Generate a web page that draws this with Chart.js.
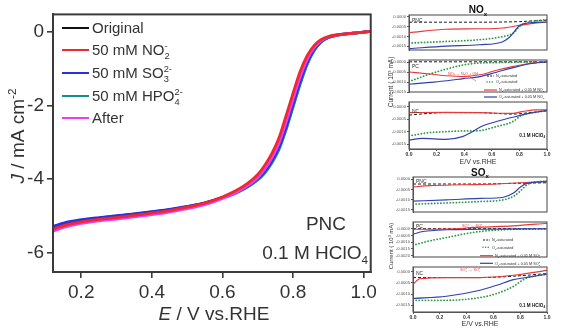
<!DOCTYPE html>
<html><head><meta charset="utf-8">
<script src="https://cdn.jsdelivr.net/npm/chart.js@4.4.1/dist/chart.umd.min.js"></script>
<style>
html,body{margin:0;padding:0;background:#fff;}
body{width:562px;height:332px;overflow:hidden;position:relative;}
canvas{position:absolute;}
</style>
</head><body>
<canvas id="main" width="380" height="332" style="left:0;top:0"></canvas>
<canvas id="noxPNC" width="182" height="166" style="left:380px;top:0"></canvas>
<canvas id="noxPC" width="182" height="166" style="left:380px;top:0"></canvas>
<canvas id="noxNC" width="182" height="166" style="left:380px;top:0"></canvas>
<canvas id="soxPNC" width="182" height="166" style="left:380px;top:166px"></canvas>
<canvas id="soxPC" width="182" height="166" style="left:380px;top:166px"></canvas>
<canvas id="soxNC" width="182" height="166" style="left:380px;top:166px"></canvas>
<script>
// ---------- main chart data ----------
const mainE = [0.12,0.15,0.2,0.25,0.3,0.35,0.4,0.45,0.5,0.55,0.6,0.64,0.67,0.7,0.72,0.74,0.76,0.78,0.8,0.82,0.84,0.86,0.88,0.9,0.92,0.95,0.98,1.0,1.02];
const jOriginal = [-5.30,-5.21,-5.12,-5.06,-5.01,-4.95,-4.89,-4.83,-4.75,-4.65,-4.50,-4.35,-4.20,-4.00,-3.80,-3.52,-3.15,-2.62,-2.00,-1.38,-0.85,-0.48,-0.26,-0.15,-0.09,-0.05,-0.02,0.00,0.02];
const jNO2 = [-5.36,-5.26,-5.16,-5.09,-5.04,-4.98,-4.92,-4.85,-4.76,-4.65,-4.48,-4.30,-4.12,-3.87,-3.62,-3.30,-2.88,-2.28,-1.66,-1.07,-0.64,-0.36,-0.20,-0.12,-0.08,-0.05,-0.02,0.00,0.02];
const jSO3 = [-5.28,-5.19,-5.10,-5.04,-4.99,-4.94,-4.88,-4.82,-4.74,-4.64,-4.49,-4.34,-4.19,-3.98,-3.78,-3.50,-3.12,-2.58,-1.96,-1.34,-0.82,-0.46,-0.25,-0.14,-0.09,-0.05,-0.02,0.00,0.02];
const jHPO4 = [-5.31,-5.22,-5.13,-5.07,-5.02,-4.96,-4.90,-4.84,-4.76,-4.66,-4.51,-4.37,-4.22,-4.02,-3.83,-3.56,-3.20,-2.66,-2.04,-1.42,-0.88,-0.50,-0.27,-0.15,-0.10,-0.05,-0.02,0.00,0.02];
const jAfter = [-5.41,-5.31,-5.20,-5.13,-5.08,-5.02,-4.96,-4.89,-4.80,-4.69,-4.52,-4.35,-4.18,-3.95,-3.72,-3.42,-3.02,-2.45,-1.83,-1.22,-0.74,-0.42,-0.23,-0.13,-0.09,-0.05,-0.02,0.00,0.02];
const mainXTicks = [0.2,0.4,0.6,0.8,1.0];
const mainYTicks = [0,-2,-4,-6];

// ---------- small panels data: [E, current] ----------
const noxPNC_N2 = [[0,-0.00027],[0.27,-0.00027],[0.51,-0.00027],[0.68,-0.00026],[0.80,-0.00024],[0.90,-0.00020],[1.0,-0.00017]];
const noxPNC_O2 = [[0,-0.00134],[0.27,-0.00126],[0.51,-0.00117],[0.68,-0.00101],[0.756,-0.00083],[0.80,-0.00050],[0.853,-0.00030],[1.0,-0.00013]];
const noxPNC_N2X = [[0,-0.00081],[0.27,-0.00063],[0.51,-0.00061],[0.68,-0.00057],[0.80,-0.00043],[0.90,-0.00033],[1.0,-0.00027]];
const noxPNC_O2X = [[0,-0.00163],[0.27,-0.00150],[0.51,-0.00143],[0.68,-0.00127],[0.73,-0.00103],[0.804,-0.00043],[0.877,-0.00030],[1.0,-0.00026]];

const noxPC_N2 = [[0,0.00001],[0.5,0.00001],[1.0,0.00001]];
const noxPC_O2 = [[0,-0.00098],[0.152,-0.00060],[0.273,-0.00035],[0.393,-0.00015],[0.514,-0.00005],[0.635,-0.00003],[0.756,-0.00001],[0.877,0],[1.0,0]];
const noxPC_N2X = [[0,-0.00050],[0.152,-0.00060],[0.273,-0.00069],[0.393,-0.00073],[0.514,-0.00064],[0.635,-0.00041],[0.756,-0.00022],[0.877,-0.00006],[1.0,0]];
const noxPC_O2X = [[0,-0.00111],[0.152,-0.00102],[0.273,-0.00094],[0.393,-0.00083],[0.514,-0.00073],[0.635,-0.00051],[0.756,-0.00028],[0.877,-0.00009],[1.0,0]];

const noxNC_N2 = [[0,-0.00033],[0.145,-0.00026],[0.266,-0.00023],[0.507,-0.00023],[0.628,-0.00026],[0.749,-0.00029],[0.87,-0.00023],[1.0,-0.00015]];
const noxNC_O2 = [[0,-0.00117],[0.145,-0.00104],[0.266,-0.00100],[0.387,-0.00097],[0.507,-0.00096],[0.628,-0.00080],[0.749,-0.00060],[0.821,-0.00033],[0.918,-0.00022],[1.0,-0.00015]];
const noxNC_N2X = [[0,-0.00023],[0.266,-0.00022],[0.507,-0.00023],[0.749,-0.00026],[0.821,-0.00019],[0.918,-0.00012],[1.0,-0.00012]];
const noxNC_O2X = [[0,-0.00134],[0.097,-0.00127],[0.266,-0.00131],[0.387,-0.00120],[0.459,-0.00100],[0.531,-0.00077],[0.628,-0.00060],[0.749,-0.00042],[0.87,-0.00026],[1.0,-0.00015]];

const soxPNC_N2 = [[0,-0.00024],[0.5,-0.00024],[0.75,-0.00021],[1.0,-0.00018]];
const soxPNC_O2 = [[0,-0.00122],[0.25,-0.00116],[0.5,-0.00109],[0.675,-0.00101],[0.75,-0.00084],[0.8,-0.00059],[0.85,-0.00028],[0.9,-0.00015],[1.0,-0.00011]];
const soxPNC_N2X = [[0,-0.00038],[0.125,-0.00032],[0.375,-0.00028],[0.625,-0.00024],[0.8,-0.00018],[1.0,-0.00010]];
const soxPNC_O2X = [[0,-0.00107],[0.25,-0.00101],[0.5,-0.00094],[0.675,-0.00088],[0.75,-0.00068],[0.8,-0.00040],[0.85,-0.00021],[1.0,-0.00013]];

const soxPC_N2 = [[0,0],[0.5,0],[1.0,0]];
const soxPC_O2 = [[0,-0.00123],[0.125,-0.00090],[0.25,-0.00066],[0.375,-0.00040],[0.5,-0.00021],[0.625,-0.00010],[0.75,-0.00004],[1.0,-0.00002]];
const soxPC_N2X = [[0,-0.00004],[0.25,-0.00002],[0.5,0.00012],[0.75,0.00021],[1.0,0.00041]];
const soxPC_O2X = [[0,-0.00040],[0.075,-0.00021],[0.25,-0.00008],[0.5,-0.00004],[1.0,0]];

const soxNC_N2 = [[0,-0.00027],[0.25,-0.00027],[0.5,-0.00027],[0.75,-0.00021],[1.0,-0.00009]];
const soxNC_O2 = [[0,-0.00128],[0.25,-0.00128],[0.5,-0.00116],[0.625,-0.00098],[0.75,-0.00066],[0.825,-0.00036],[0.875,-0.00024],[1.0,-0.00012]];
const soxNC_N2X = [[0,-0.00057],[0.05,-0.00032],[0.25,-0.00027],[0.5,-0.00027],[0.75,-0.00017],[1.0,0.00005]];
const soxNC_O2X = [[0,-0.00120],[0.25,-0.00110],[0.5,-0.00083],[0.625,-0.00061],[0.75,-0.00036],[0.875,-0.00024],[1.0,-0.00012]];

const smallXTicks = [0,0.2,0.4,0.6,0.8,1.0];
const smallYTicks = [0,-0.0005,-0.001,-0.0015];
const soxPCYTicks = [0,-0.0005,-0.001,-0.0015,-0.002];

// ---------- helpers ----------
const FONT = "'Liberation Sans', Arial, Helvetica, sans-serif";
Chart.defaults.font.family = FONT;
// parts: [text, mode] mode 0 normal, 1 sub, 2 sup, 3 italic, 4 sup stacked over preceding sub
function rich(ctx, parts, x, y, size, align, color, weight) {
  ctx.save();
  ctx.fillStyle = color; ctx.textBaseline = 'alphabetic'; ctx.textAlign = 'left';
  const f = m => (m === 3 ? 'italic ' : '') + (weight || 'normal') + ' ' + ((m === 1 || m === 2 || m === 4) ? size * 0.62 : size) + 'px ' + FONT;
  let w = 0, subStart = 0;
  for (const p of parts) {
    ctx.font = f(p[1]); const pw = ctx.measureText(p[0]).width;
    if (p[1] === 4) { w = Math.max(w, subStart + pw); }
    else { if (p[1] === 1) { subStart = w; } w += pw; }
  }
  let cx = align === 'center' ? x - w / 2 : align === 'right' ? x - w : x;
  let sStart = 0;
  for (const p of parts) {
    ctx.font = f(p[1]); const pw = ctx.measureText(p[0]).width;
    if (p[1] === 4) {
      ctx.fillText(p[0], sStart, y - size * 0.42);
      cx = Math.max(cx, sStart + pw);
    } else {
      const dy = p[1] === 1 ? size * 0.25 : p[1] === 2 ? -size * 0.42 : 0;
      if (p[1] === 1) sStart = cx;
      ctx.fillText(p[0], cx, y + dy);
      cx += pw;
    }
  }
  ctx.restore();
}
function richRot(ctx, parts, cx, cy, size, color, weight) {
  ctx.save(); ctx.translate(cx, cy); ctx.rotate(-Math.PI / 2);
  rich(ctx, parts, 0, size * 0.36, size, 'center', color, weight);
  ctx.restore();
}
function line(ctx, x1, y1, x2, y2, color, width, dash, cap) {
  ctx.save(); ctx.strokeStyle = color; ctx.lineWidth = width; ctx.setLineDash(dash || []); ctx.lineCap = cap || 'butt';
  ctx.beginPath(); ctx.moveTo(x1, y1); ctx.lineTo(x2, y2); ctx.stroke(); ctx.restore();
}
const framePlugin = {
  id: 'frame',
  afterDatasetsDraw(chart, args, opts) {
    const { ctx, chartArea: a } = chart;
    ctx.save(); ctx.strokeStyle = opts.color || '#333'; ctx.lineWidth = opts.width || 1;
    ctx.strokeRect(a.left, a.top, a.right - a.left, a.bottom - a.top); ctx.restore();
  }
};
function textPlugin(fn) { return { id: 'txt', afterDraw(chart) { fn(chart.ctx); } }; }

// ---------- main chart ----------
const TXT = '#333';
const mainSeries = [
  { name: '50 mM NO2-', vals: jNO2, color: '#ee2a2e' },
  { name: 'After', vals: jAfter, color: '#f03cf0' },
  { name: '50 mM SO3 2-', vals: jSO3, color: '#2f2fe0' },
  { name: '50 mM HPO4 2-', vals: jHPO4, color: '#14908a' },
  { name: 'Original', vals: jOriginal, color: '#111111' }
];
new Chart(document.getElementById('main'), {
  type: 'line',
  data: {
    datasets: mainSeries.map(s => ({
      label: s.name,
      data: mainE.map((e, i) => ({ x: e, y: s.vals[i] })),
      borderColor: s.color, borderWidth: 2.8, pointRadius: 0,
      cubicInterpolationMode: 'monotone', fill: false
    }))
  },
  options: {
    responsive: false, animation: false, devicePixelRatio: 1,
    layout: { padding: { left: 0, right: 6, top: 14, bottom: 0 } },
    plugins: { legend: { display: false }, tooltip: { enabled: false }, frame: { color: '#3a3a3a', width: 2 } },
    scales: {
      x: {
        type: 'linear', min: 0.12, max: 1.02,
        afterBuildTicks: s => { s.ticks = mainXTicks.map(v => ({ value: v })); },
        afterFit: s => { s.height = 60; },
        ticks: { callback: v => v.toFixed(1), font: { size: 19 }, color: TXT, padding: 3, maxRotation: 0, autoSkip: false },
        grid: { drawOnChartArea: false, drawTicks: true, tickLength: 6, color: '#3a3a3a', lineWidth: 1.6 },
        border: { display: true, color: '#3a3a3a', width: 2 }
      },
      y: {
        type: 'linear', min: -6.52, max: 0.48,
        afterBuildTicks: s => { s.ticks = mainYTicks.map(v => ({ value: v })); },
        afterFit: s => { s.width = 53; },
        ticks: { callback: v => String(v), font: { size: 19 }, color: TXT, padding: 3, autoSkip: false },
        grid: { drawOnChartArea: false, drawTicks: true, tickLength: 6, color: '#3a3a3a', lineWidth: 1.6 },
        border: { display: true, color: '#3a3a3a', width: 2 }
      }
    }
  },
  plugins: [framePlugin, textPlugin(ctx => {
    const legend = [
      { parts: [['Original', 0]], color: '#111111' },
      { parts: [['50 mM NO', 0], ['2', 1], ['-', 4]], color: '#ee2a2e' },
      { parts: [['50 mM SO', 0], ['3', 1], ['2-', 4]], color: '#2f2fe0' },
      { parts: [['50 mM HPO', 0], ['4', 1], ['2-', 4]], color: '#14908a' },
      { parts: [['After', 0]], color: '#f03cf0' }
    ];
    const ys = [28, 50, 73, 96, 118];
    legend.forEach((it, i) => {
      line(ctx, 62, ys[i], 89, ys[i], it.color, 2);
      rich(ctx, it.parts, 92, ys[i] + 5.3, 15, 'left', TXT);
    });
    rich(ctx, [['PNC', 0]], 326, 230, 19, 'center', TXT);
    rich(ctx, [['0.1 M HClO', 0], ['4', 1]], 368, 259, 19, 'right', TXT);
    rich(ctx, [['E', 3], [' / V vs.RHE', 0]], 214, 320, 19, 'center', TXT);
    richRot(ctx, [['J', 3], [' / mA cm', 0], ['-2', 2]], 17, 136, 19, TXT);
  })]
});

// ---------- small panels ----------
const ST = {
  N2: { color: '#1a1a1a', width: 1, dash: [3, 2] },
  O2: { color: '#2e9a48', width: 1.8, dash: [0.1, 3], cap: 'round' },
  N2X: { color: '#e8393a', width: 1.1 },
  O2X: { color: '#2f3fae', width: 1.1 }
};
function smallPanel(id, spec) {
  const showX = !!spec.showX;
  return new Chart(document.getElementById(id), {
    type: 'line',
    data: {
      datasets: spec.series.map(s => ({
        data: s.pts.map(p => ({ x: p[0], y: p[1] })),
        borderColor: s.st.color, borderWidth: s.st.width, borderDash: s.st.dash || [],
        borderCapStyle: s.st.cap || 'butt', pointRadius: 0,
        cubicInterpolationMode: 'monotone', fill: false
      }))
    },
    options: {
      responsive: false, animation: false, devicePixelRatio: 1,
      layout: { padding: { left: 0, right: 15, top: spec.top, bottom: spec.bottom } },
      plugins: { legend: { display: false }, tooltip: { enabled: false }, frame: { color: '#555', width: 1.1 } },
      scales: {
        x: {
          type: 'linear', min: 0, max: 1, display: showX,
          afterBuildTicks: s => { s.ticks = smallXTicks.map(v => ({ value: v })); },
          afterFit: s => { s.height = 10; },
          ticks: { callback: v => v.toFixed(1), font: { size: 5, weight: 'bold' }, color: TXT, padding: 1, maxRotation: 0, autoSkip: false },
          grid: { drawOnChartArea: false, drawTicks: true, tickLength: 2, color: '#555' },
          border: { display: true, color: '#555' }
        },
        y: {
          type: 'linear', min: spec.min, max: spec.max,
          afterBuildTicks: s => { s.ticks = spec.ticks.map(v => ({ value: v })); },
          afterFit: s => { s.width = spec.axisW; },
          ticks: { callback: v => v.toFixed(4), font: { size: 4.2 }, color: '#555', padding: 1, autoSkip: false },
          grid: { drawOnChartArea: false, drawTicks: true, tickLength: 2, color: '#555' },
          border: { display: true, color: '#555' }
        }
      }
    },
    plugins: [framePlugin, textPlugin(spec.text || (() => {}))]
  });
}
function ser(n2, o2, n2x, o2x) {
  return [
    { pts: o2x, st: ST.O2X }, { pts: n2x, st: ST.N2X },
    { pts: o2, st: ST.O2 }, { pts: n2, st: ST.N2 }
  ];
}
function smallLegend(ctx, x, ys, anion) {
  const fs = 3.8;
  line(ctx, x, ys[0], x + 7, ys[0], ST.N2.color, 1, [2, 1.2]);
  rich(ctx, [['N', 0], ['2', 1], ['-saturated', 0]], x + 9, ys[0] + 1.4, fs, 'left', TXT);
  line(ctx, x, ys[1], x + 7, ys[1], ST.O2.color, 1.5, [0.1, 2.5], 'round');
  rich(ctx, [['O', 0], ['2', 1], ['-saturated', 0]], x + 9, ys[1] + 1.4, fs, 'left', TXT);
  line(ctx, x - 3, ys[2], x + 10, ys[2], ST.N2X.color, 1.2);
  rich(ctx, [['N', 0], ['2', 1], ['-saturated + 0.05 M ' + anion[0], 0], [anion[1], 1], [anion[2], 4]], x + 12, ys[2] + 1.4, fs, 'left', TXT);
  line(ctx, x - 3, ys[3], x + 10, ys[3], ST.O2X.color, 1.2);
  rich(ctx, [['O', 0], ['2', 1], ['-saturated + 0.05 M ' + anion[0], 0], [anion[1], 1], [anion[2], 4]], x + 12, ys[3] + 1.4, fs, 'left', TXT);
}
const RED = '#e8393a';
// NOx group (canvas offset x=380, y=0)
smallPanel('noxPNC', { top: 15, bottom: 106, axisW: 29, min: -0.0017, max: 0.0001, ticks: smallYTicks,
  series: ser(noxPNC_N2, noxPNC_O2, noxPNC_N2X, noxPNC_O2X),
  text: ctx => {
    rich(ctx, [['NO', 0], ['x', 1]], 98, 13, 10, 'center', '#111', 'bold');
    rich(ctx, [['PNC', 0]], 32, 22, 5, 'left', TXT);
  } });
smallPanel('noxPC', { top: 60, bottom: 64, axisW: 29, min: -0.0015, max: 0.0001, ticks: smallYTicks,
  series: ser(noxPC_N2, noxPC_O2, noxPC_N2X, noxPC_O2X),
  text: ctx => {
    rich(ctx, [['PC', 0]], 32, 68, 5, 'left', TXT);
    rich(ctx, [['NO', 0], ['2', 1], ['-', 4], [' \u2192 N', 0], ['2', 1], ['O + OH', 0], ['-', 2]], 68, 74.5, 3.8, 'left', RED);
    line(ctx, 88, 75.5, 96, 81, RED, 0.6);
    smallLegend(ctx, 107, [76, 82, 90, 97], ['NO', '2', '-']);
  } });
smallPanel('noxNC', { top: 102, bottom: 7, axisW: 29, min: -0.0017, max: 0.0002, ticks: smallYTicks, showX: true,
  series: ser(noxNC_N2, noxNC_O2, noxNC_N2X, noxNC_O2X),
  text: ctx => {
    rich(ctx, [['NC', 0]], 32, 113, 5, 'left', TXT);
    rich(ctx, [['0.1 M HClO', 0], ['4', 1]], 165, 137, 4.6, 'right', '#111', 'bold');
    rich(ctx, [['E/V vs.RHE', 0]], 98, 164, 7, 'center', TXT);
    richRot(ctx, [['Current ( 10', 0], ['3', 2], [' mA)', 0]], 11, 82, 6.5, TXT);
  } });
// SOx group (canvas offset x=380, y=166)
smallPanel('soxPNC', { top: 11, bottom: 110, axisW: 33, min: -0.0016, max: 0.0001, ticks: smallYTicks,
  series: ser(soxPNC_N2, soxPNC_O2, soxPNC_N2X, soxPNC_O2X),
  text: ctx => {
    rich(ctx, [['SO', 0], ['x', 1]], 100, 9.5, 10, 'center', '#111', 'bold');
    rich(ctx, [['PNC', 0]], 36, 17, 5, 'left', TXT);
  } });
smallPanel('soxPC', { top: 56, bottom: 65, axisW: 33, min: -0.0021, max: 0.0005, ticks: soxPCYTicks,
  series: ser(soxPC_N2, soxPC_O2, soxPC_N2X, soxPC_O2X),
  text: ctx => {
    rich(ctx, [['PC', 0]], 36, 62, 5, 'left', TXT);
    rich(ctx, [['SO', 0], ['3', 1], ['2-', 4], [' \u2192 SO', 0], ['4', 1], ['2-', 4]], 82, 61, 3.8, 'left', RED);
    smallLegend(ctx, 103, [74, 81.3, 89.7, 97.3], ['SO', '3', '2-']);
  } });
smallPanel('soxNC', { top: 101, bottom: 10, axisW: 33, min: -0.0018, max: 0.0002, ticks: smallYTicks, showX: true,
  series: ser(soxNC_N2, soxNC_O2, soxNC_N2X, soxNC_O2X),
  text: ctx => {
    rich(ctx, [['NC', 0]], 36, 109, 5, 'left', TXT);
    rich(ctx, [['SO', 0], ['3', 1], ['2-', 4], [' \u2192 SO', 0], ['4', 1], ['2-', 4]], 80, 105, 3.8, 'left', RED);
    rich(ctx, [['0.1 M HClO', 0], ['4', 1]], 165, 141, 4.6, 'right', '#111', 'bold');
    rich(ctx, [['E/V vs.RHE', 0]], 100, 160, 7, 'center', TXT);
    richRot(ctx, [['Current ( 10', 0], ['3', 2], [' mA)', 0]], 11, 80, 6, TXT);
  } });
</script>
</body></html>
